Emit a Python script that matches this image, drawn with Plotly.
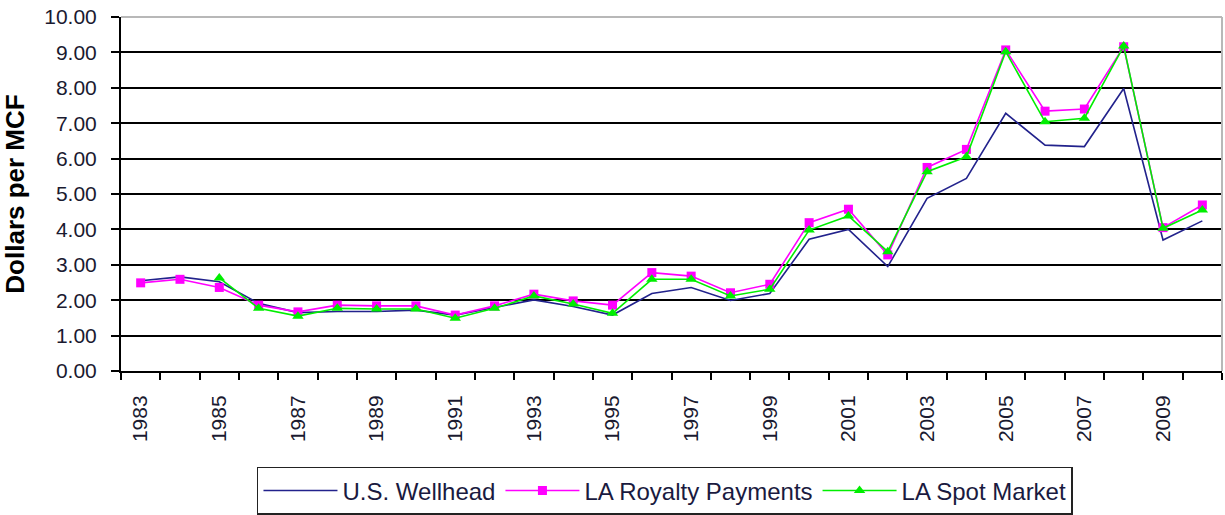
import plotly.graph_objects as go

years = list(range(1983, 2011))
us_wellhead = [2.55, 2.66, 2.52, 1.91, 1.65, 1.68, 1.68, 1.72, 1.58, 1.80,
               2.01, 1.82, 1.58, 2.19, 2.36, 1.99, 2.19, 3.72, 4.00, 2.95,
               4.88, 5.44, 7.28, 6.38, 6.34, 7.98, 3.70, 4.24]
la_royalty = [2.49, 2.59, 2.36, 1.86, 1.67, 1.86, 1.84, 1.84, 1.58, 1.84,
              2.17, 1.98, 1.86, 2.78, 2.68, 2.21, 2.45, 4.19, 4.57, 3.28,
              5.75, 6.26, 9.07, 7.34, 7.40, 9.16, 4.05, 4.69]
la_spot = [None, None, 2.63, 1.77, 1.55, 1.77, 1.75, 1.75, 1.49, 1.77,
           2.12, 1.89, 1.63, 2.59, 2.59, 2.12, 2.31, 3.98, 4.38, 3.37,
           5.63, 6.05, 9.02, 7.04, 7.14, 9.18, 4.03, 4.55]
x_tick_labels = [str(y) for y in range(1983, 2011, 2)]
y_ticks = list(range(0, 11))

font_family = "Liberation Sans, Arial, sans-serif"

fig = go.Figure()
fig.add_trace(go.Scatter(x=years, y=us_wellhead, name="U.S. Wellhead", mode="lines",
                         line=dict(color="#22228C", width=1.6)))
fig.add_trace(go.Scatter(x=years, y=la_royalty, name="LA Royalty Payments", mode="lines+markers",
                         line=dict(color="#FF00FF", width=1.6),
                         marker=dict(symbol="square", size=9, color="#FF00FF")))
fig.add_trace(go.Scatter(x=years, y=la_spot, name="LA Spot Market", mode="lines+markers",
                         line=dict(color="#00EE00", width=1.6),
                         marker=dict(symbol="triangle-up", size=10, color="#00EE00")))

fig.update_layout(
    width=1225, height=515,
    margin=dict(l=121, r=3, t=17, b=144, autoexpand=False),
    paper_bgcolor="white", plot_bgcolor="white",
    font=dict(family=font_family, color="black"),
    showlegend=True,
    legend=dict(orientation="h", x=0.1235, xanchor="left", y=-0.271, yanchor="top",
                bordercolor="#222222", borderwidth=1.5, bgcolor="white",
                font=dict(size=24, family=font_family, color="#1a1a40"),
                itemwidth=74, tracegroupgap=0),
    xaxis=dict(range=[1982.5, 2010.5], tickmode="array",
               tickvals=[int(t) for t in x_tick_labels], ticktext=x_tick_labels,
               tickangle=-90, ticks="", showgrid=False, zeroline=False,
               showline=True, linecolor="black", linewidth=2, automargin=False,
               tickfont=dict(size=21, family=font_family, color="#1a1a30"),
               ticklabelstandoff=14,
               minor=dict(tickmode="linear", tick0=1982.5, dtick=1, ticks="outside",
                          ticklen=7, tickwidth=2, tickcolor="black", showgrid=False)),
    yaxis=dict(range=[0, 10], tickmode="array", tickvals=y_ticks,
               tickformat=".2f", ticks="outside", ticklen=8, tickwidth=2, tickcolor="black",
               showgrid=True, gridcolor="black", gridwidth=2, zeroline=False,
               showline=True, linecolor="black", linewidth=2, automargin=False,
               tickfont=dict(size=21, family=font_family, color="#1a1a30"),
               ticklabelstandoff=10,
               title=dict(text="<b>Dollars per MCF</b>", standoff=16,
                          font=dict(size=26, family=font_family, color="black"))),
)

# light grey frame on top and right of plot area
fig.add_shape(type="line", xref="paper", yref="paper", x0=0, x1=1, y0=1, y1=1,
              line=dict(color="#B8B8B8", width=2), layer="above")
fig.add_shape(type="line", xref="paper", yref="paper", x0=1, x1=1, y0=0, y1=1,
              line=dict(color="#B8B8B8", width=2), layer="above")

fig.write_html(
    "out.html",
    config={"displayModeBar": False},
    post_script="document.body.style.margin='0';document.body.style.overflow='hidden';",
)
